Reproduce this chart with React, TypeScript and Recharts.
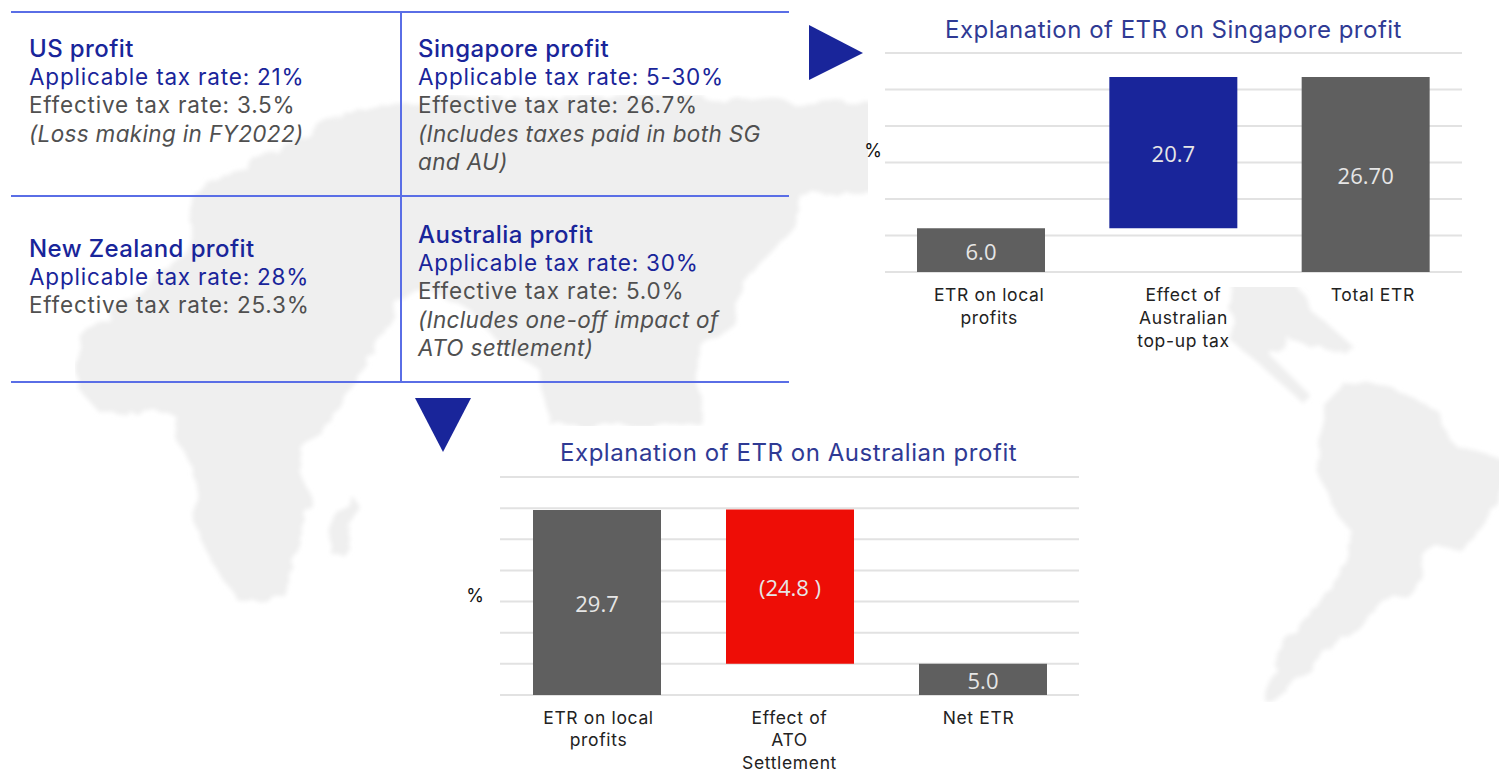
import { Bar, BarChart, CartesianGrid, Cell, LabelList, XAxis, YAxis } from "recharts";

// Singapore chart
const sgCategories = ["ETR on local\nprofits", "Effect of\nAustralian\ntop-up tax", "Total ETR"];
const sgBase = [0, 6.0, 0];
const sgValues = [6.0, 20.7, 26.7];
const sgLabels = ["6.0", "20.7", "26.70"];
const sgTicks = [0, 5, 10, 15, 20, 25, 30];

// Australia chart
const auCategories = ["ETR on local\nprofits", "Effect of\nATO\nSettlement", "Net ETR"];
const auBase = [0, 5.0, 0];
const auValues = [29.7, 24.8, 5.0];
const auLabels = ["29.7", "(24.8 )", "5.0"];
const auTicks = [0, 5, 10, 15, 20, 25, 30, 35];

const NAVY = "#19259a";
const GREY = "#5f5f5f";
const RED = "#ee0d06";
const RULE = "#5a6ee6";
const TEXT_FONT = "Inter, 'Open Sans', sans-serif";

const sgColors = [GREY, NAVY, GREY];
const auColors = [GREY, RED, GREY];

type Line = { text: string; kind: "head" | "rate" | "eff" | "note" };

const cells: { left: number; top: number; lines: Line[] }[] = [
  {
    left: 29,
    top: 35,
    lines: [
      { text: "US profit", kind: "head" },
      { text: "Applicable tax rate: 21%", kind: "rate" },
      { text: "Effective tax rate: 3.5%", kind: "eff" },
      { text: "(Loss making in FY2022)", kind: "note" },
    ],
  },
  {
    left: 418,
    top: 35,
    lines: [
      { text: "Singapore profit", kind: "head" },
      { text: "Applicable tax rate: 5-30%", kind: "rate" },
      { text: "Effective tax rate: 26.7%", kind: "eff" },
      { text: "(Includes taxes paid in both SG", kind: "note" },
      { text: "and AU)", kind: "note" },
    ],
  },
  {
    left: 29,
    top: 235,
    lines: [
      { text: "New Zealand profit", kind: "head" },
      { text: "Applicable tax rate: 28%", kind: "rate" },
      { text: "Effective tax rate: 25.3%", kind: "eff" },
    ],
  },
  {
    left: 418,
    top: 221,
    lines: [
      { text: "Australia profit", kind: "head" },
      { text: "Applicable tax rate: 30%", kind: "rate" },
      { text: "Effective tax rate: 5.0%", kind: "eff" },
      { text: "(Includes one-off impact of", kind: "note" },
      { text: "ATO settlement)", kind: "note" },
    ],
  },
];

function lineStyle(kind: Line["kind"]): React.CSSProperties {
  if (kind === "head") return { color: NAVY, fontWeight: 500, fontSize: 24, letterSpacing: 0.4 };
  if (kind === "rate") return { color: NAVY, fontSize: 22.5, letterSpacing: 0.8 };
  if (kind === "eff") return { color: "#505050", fontSize: 22.5, letterSpacing: 0.8 };
  return { color: "#505050", fontStyle: "italic", fontSize: 22.5, letterSpacing: 0.35 };
}

function makeRows(categories: string[], base: number[], values: number[], labels: string[]) {
  return categories.map((name, i) => ({ name, base: base[i], value: values[i], label: labels[i] }));
}

function MultiLineTick({ x, y, payload, index, shifts, lineGap }: any) {
  const lines = String(payload.value).split("\n");
  return (
    <text x={x + shifts[index]} y={y} textAnchor="middle" fontFamily={TEXT_FONT} fontSize={17.5} fill="#222222" letterSpacing={0.65}>
      {lines.map((l: string, i: number) => (
        <tspan key={i} x={x + shifts[index]} dy={i === 0 ? 21 : lineGap}>
          {l}
        </tspan>
      ))}
    </text>
  );
}

function WaterfallChart({ rows, colors, ticks, max, width, height, plotTop, plotRight, axisWidth, axisHeight, shifts, lineGap, percentDy, percentOffset }: any) {
  return (
    <BarChart width={width} height={height} data={rows} margin={{ top: plotTop, right: plotRight, left: 0, bottom: 0 }} barSize={128}>
      <CartesianGrid horizontal vertical={false} stroke="#e2e2e2" strokeWidth={2} syncWithTicks />
      <XAxis
        dataKey="name"
        axisLine={false}
        tickLine={false}
        height={axisHeight}
        interval={0}
        tick={(p: any) => <MultiLineTick {...p} shifts={shifts} lineGap={lineGap} />}
      />
      {/* tick={false} would leave the grid without ticks, so draw empty ones */}
      <YAxis
        type="number"
        domain={[0, max]}
        ticks={ticks}
        interval={0}
        width={axisWidth}
        tick={() => <g />}
        axisLine={false}
        tickLine={false}
        label={{ value: "%", position: "insideRight", offset: percentOffset, dy: percentDy, fill: "#111111", fontSize: 18, fontFamily: TEXT_FONT }}
      />
      <Bar dataKey="base" stackId="a" fill="transparent" isAnimationActive={false} />
      <Bar dataKey="value" stackId="a" isAnimationActive={false}>
        {rows.map((r: any, i: number) => (
          <Cell key={r.name} fill={colors[i]} />
        ))}
        <LabelList dataKey="label" position="center" fill="#e6e6e6" fontSize={22} dy={2} fontFamily="'Open Sans', sans-serif" />
      </Bar>
    </BarChart>
  );
}

// faint world map behind everything, edges roughened by a noise filter
function MapWatermark() {
  return (
    <svg width={1499} height={772} style={{ position: "absolute", left: 0, top: 0 }}>
      <defs>
        <filter id="rough" x="0" y="0" width="100%" height="100%">
          <feTurbulence type="fractalNoise" baseFrequency="0.035" numOctaves={3} seed={4} result="n" />
          <feDisplacementMap in="SourceGraphic" in2="n" scale={18} result="d" />
          <feGaussianBlur in="d" stdDeviation={2} />
        </filter>
      </defs>
      <g fill="#efefef" filter="url(#rough)">
        <polygon points="75,385 80,335 150,285 190,255 190,195 260,160 340,115 400,100 640,95 875,105 875,190 800,195 790,240 760,260 740,290 735,320 700,345 700,425 550,425 540,370 500,345 470,310 430,290 400,300 350,390 315,440 300,470 312,505 290,560 285,597 240,603 210,560 193,520 195,470 178,440 175,415 145,412 100,413" />
        <polygon points="331,515 352,495 357,505 345,555 332,555" />
        <polygon points="1230,280 1295,280 1310,310 1352,345 1330,350 1290,340 1270,355 1310,395 1300,400 1260,365 1230,340" />
        <polygon points="1343,383 1393,387 1437,410 1453,443 1510,460 1500,503 1470,543 1427,553 1413,587 1360,623 1327,653 1287,687 1280,702 1263,702 1273,660 1313,613 1343,563 1353,533 1333,510 1317,470 1327,410" />
      </g>
    </svg>
  );
}

export default function App() {
  const sgRows = makeRows(sgCategories, sgBase, sgValues, sgLabels);
  const auRows = makeRows(auCategories, auBase, auValues, auLabels);

  return (
    <div style={{ position: "absolute", left: 0, top: 0, width: 1499, height: 772, overflow: "hidden", background: "#ffffff", fontFamily: TEXT_FONT }}>
      <MapWatermark />

      {/* white boxes the pasted charts sit on */}
      <div style={{ position: "absolute", left: 868, top: 0, width: 631, height: 287, background: "#fff" }} />
      <div style={{ position: "absolute", left: 450, top: 426, width: 640, height: 346, background: "#fff" }} />

      {/* table rules */}
      {[12, 196, 382].map((t) => (
        <div key={t} style={{ position: "absolute", left: 11, top: t - 1, width: 778, height: 2, background: RULE }} />
      ))}
      <div style={{ position: "absolute", left: 400, top: 12, width: 2, height: 370, background: RULE }} />

      {cells.map((c) => (
        <div key={c.lines[0].text} style={{ position: "absolute", left: c.left, top: c.top, lineHeight: "28.2px", whiteSpace: "nowrap" }}>
          {c.lines.map((l) => (
            <div key={l.text} style={lineStyle(l.kind)}>
              {l.text}
            </div>
          ))}
        </div>
      ))}

      {/* arrows */}
      <svg width={1499} height={772} style={{ position: "absolute", left: 0, top: 0 }}>
        <polygon points="809,25 809,80 863,53" fill={NAVY} />
        <polygon points="415,398 471,398 443,452" fill={NAVY} />
      </svg>

      <div style={{ position: "absolute", left: 945, top: 16, fontSize: 24, letterSpacing: 0.5, lineHeight: "28px", color: "#2f3a94", whiteSpace: "nowrap" }}>
        Explanation of ETR on Singapore profit
      </div>
      <div style={{ position: "absolute", left: 860, top: 0 }}>
        <WaterfallChart
          rows={sgRows}
          colors={sgColors}
          ticks={sgTicks}
          max={30}
          width={620}
          height={360}
          plotTop={53}
          plotRight={18}
          axisWidth={25}
          axisHeight={88}
          shifts={[8, 10, 7]}
          lineGap={23}
          percentDy={-12}
          percentOffset={3}
        />
      </div>

      <div style={{ position: "absolute", left: 560, top: 439, fontSize: 24, letterSpacing: 0.55, lineHeight: "28px", color: "#2f3a94", whiteSpace: "nowrap" }}>
        Explanation of ETR on Australian profit
      </div>
      <div style={{ position: "absolute", left: 440, top: 430 }}>
        <WaterfallChart
          rows={auRows}
          colors={auColors}
          ticks={auTicks}
          max={35}
          width={660}
          height={342}
          plotTop={47}
          plotRight={21}
          axisWidth={60}
          axisHeight={77}
          shifts={[2, 0, -4]}
          lineGap={22.3}
          percentDy={10}
          percentOffset={16}
        />
      </div>
    </div>
  );
}
